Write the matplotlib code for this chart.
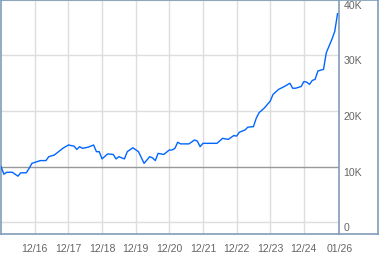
import matplotlib
matplotlib.use("Agg")
import matplotlib.pyplot as plt
import matplotlib.dates as mdates
from matplotlib.lines import Line2D
import pandas as pd

# month index from Jan 2016 and value (thousands)
month_idx = [0, 1, 2, 4, 6, 7, 9, 10, 11, 14, 16, 17, 19, 22, 24, 26, 27, 28, 29, 31,
             33, 34, 35, 36, 38, 40, 41, 42, 44, 45, 47, 49, 51, 53, 54, 55, 56, 58, 60, 61,
             62, 63, 64, 67, 69, 70, 71, 72, 74, 77, 79, 81, 83, 84, 85, 87, 88, 90, 91, 92,
             94, 96, 97, 99, 101, 103, 104, 105, 107, 108, 109, 110, 111, 112, 113, 115, 116, 117, 118, 119,
             120]
values = [10.0, 8.65, 9.0, 9.0, 8.3, 8.9, 8.9, 9.7, 10.6, 11.1, 11.1, 11.8, 12.1, 13.3, 13.9, 13.7, 13.1, 13.6, 13.3, 13.5,
          13.9, 12.7, 12.7, 11.4, 12.3, 12.2, 11.4, 11.8, 11.4, 12.7, 13.4, 12.7, 10.6, 11.8, 11.6, 11.1, 12.4, 12.2, 13.0, 13.0,
          13.3, 14.4, 14.1, 14.1, 14.8, 14.6, 13.6, 14.2, 14.2, 14.2, 15.1, 14.9, 15.6, 15.5, 16.2, 16.6, 17.1, 17.2, 18.7, 19.7,
          20.6, 21.8, 23.0, 23.9, 24.4, 25.0, 24.1, 24.1, 24.4, 25.3, 25.2, 24.8, 25.5, 25.7, 27.2, 27.5, 30.5, 31.7, 32.9, 34.3,
          37.5]
baseline = 10000
ytick_vals = [0, 10000, 20000, 30000, 40000]
ytick_labels = ["0", "10K", "20K", "30K", "40K"]
xtick_dates = ["2016-12-31", "2017-12-31", "2018-12-31", "2019-12-31", "2020-12-31",
               "2021-12-31", "2022-12-31", "2023-12-31", "2024-12-31"]
xtick_labels = ["12/16", "12/17", "12/18", "12/19", "12/20", "12/21", "12/22", "12/23", "12/24"]
end_label = "01/26"

dates = pd.Timestamp("2016-01-01") + pd.to_timedelta([m * 30.44 for m in month_idx], unit="D")
vals = [v * 1000 for v in values]

W, H = 379, 255
fig = plt.figure(figsize=(W / 100, H / 100), dpi=100)
ax = fig.add_axes([1 / W, (H - 235.3) / H, (339.3 - 1) / W, 235.3 / H - 0.5 / H])

border = "#7F9DB9"
grid = "#DDDDDD"
txt = "#666666"

xmin = pd.Timestamp("2015-12-31")
xmax = pd.Timestamp("2026-01-20")
ax.set_xlim(xmin, xmax)
ax.set_ylim(-2150, 40050)

for d in xtick_dates:
    ax.axvline(pd.Timestamp(d), color=grid, lw=1.0, zorder=1)
for v in ytick_vals:
    if v != baseline:
        ax.axhline(v, color=grid, lw=1.0, zorder=1)
ax.axhline(baseline, color="#999999", lw=1.0, zorder=2)

ax.plot(dates, vals, color="#0066FF", lw=1.0, zorder=3)

ax.set_xticks([])
ax.set_yticks([])
for s in ax.spines.values():
    s.set_color(border)
    s.set_linewidth(1.2)

font = dict(family="Liberation Sans", size=7.6, color=txt)
for d, lab in zip(xtick_dates, xtick_labels):
    ax.text(pd.Timestamp(d), -0.035, lab, transform=ax.get_xaxis_transform(),
            ha="center", va="top", **font)
ax.text(xmax, -0.035, end_label, transform=ax.get_xaxis_transform(),
        ha="center", va="top", **font)
for v, lab in zip(ytick_vals, ytick_labels):
    ax.text(1.0 + 4 / 338, v, lab, transform=ax.get_yaxis_transform(),
            ha="left", va="top", **font)

# outer frame around the label panel
def fx(p):
    return p / W
def fy(p):
    return 1 - p / H
for xs, ys in [([339.3, 378.4], [0.5, 0.5]), ([339.3, 378.4], [235.3, 235.3]),
               ([378.4, 378.4], [0.5, 235.3])]:
    fig.add_artist(Line2D([fx(x) for x in xs], [fy(y) for y in ys], color=border, lw=1.2))

fig.savefig("out.png", dpi=100)
